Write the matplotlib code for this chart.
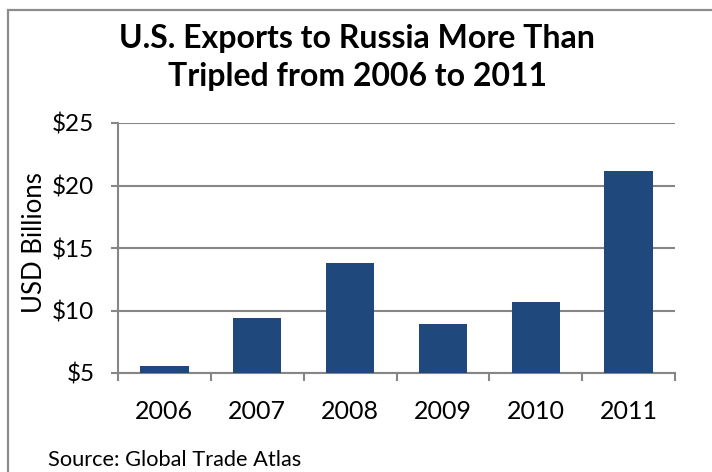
import matplotlib
matplotlib.use("Agg")
import matplotlib.pyplot as plt
from matplotlib.patches import Rectangle

years = ["2006", "2007", "2008", "2009", "2010", "2011"]
exports = [5.6, 9.4, 13.8, 8.9, 10.7, 21.2]
yticks = [5, 10, 15, 20, 25]
ytick_labels = ["$5", "$10", "$15", "$20", "$25"]

plt.rcParams['font.family'] = ['Lato', 'DejaVu Sans']

W, H = 712, 472
fig = plt.figure(figsize=(W / 100, H / 100), dpi=100)
fig.patch.set_facecolor("white")

# outer border (only left/top visible in the reference)
fig.add_artist(Rectangle((7.5 / W, -0.1), 1.2, 1 - 9.5 / H + 0.1,
                         transform=fig.transFigure, fill=False,
                         edgecolor="#8c8c8c", linewidth=1.6))

L, R, T, B = 118, 675, 123, 373
ax = fig.add_axes([L / W, 1 - B / H, (R - L) / W, (B - T) / H])
x = list(range(len(years)))
ax.bar(x, exports, width=0.52, color="#1F497D", zorder=3)
ax.set_xlim(-0.5, len(years) - 0.5)
ax.set_ylim(5, 25)
ax.set_yticks(yticks)
ax.set_yticklabels(ytick_labels)
ax.set_xticks([i - 0.5 for i in range(len(years) + 1)])
ax.set_xticklabels([])
ax.set_xticks(x, minor=True)
ax.set_xticklabels(years, minor=True)
ax.tick_params(axis="x", which="minor", length=0, labelsize=18, pad=19.5)
ax.tick_params(axis="x", which="major", length=6, width=1.5, color="#868686")
ax.tick_params(axis="y", length=5, width=1.5, color="#868686", labelsize=17.5, pad=12)
ax.grid(axis="y", color="#868686", linewidth=1.5, zorder=0)
for s in ["top", "right"]:
    ax.spines[s].set_visible(False)
for s in ["left", "bottom"]:
    ax.spines[s].set_color("#868686")
    ax.spines[s].set_linewidth(1.5)
ax.set_ylabel("USD Billions", fontsize=18.5)
ax.yaxis.set_label_coords((47 - L) / (R - L), 0.52)

fig.text(357 / W, 1 - 48 / H, "U.S. Exports to Russia More Than",
         ha="center", va="baseline", fontsize=23, fontweight="bold")
fig.text(357 / W, 1 - 86 / H, "Tripled from 2006 to 2011",
         ha="center", va="baseline", fontsize=23, fontweight="bold")
fig.text(48 / W, 1 - 466 / H, "Source: Global Trade Atlas",
         ha="left", va="baseline", fontsize=15.7)

fig.savefig("out.png", dpi=100)
